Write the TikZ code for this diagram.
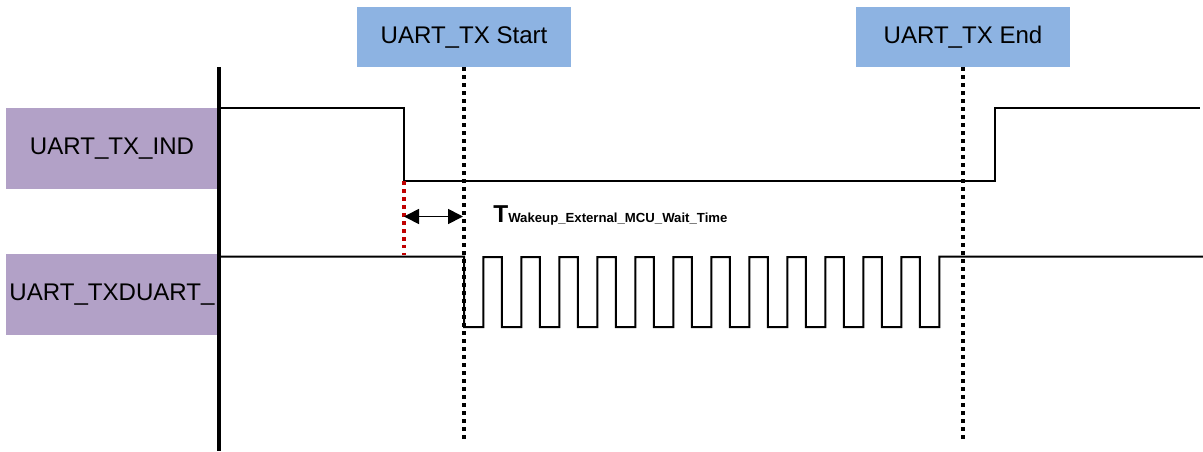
\documentclass[tikz,border=0pt]{standalone}
\usepackage{fontspec}
\setmainfont{Liberation Sans}
\usetikzlibrary{arrows.meta}
\usetikzlibrary{positioning}

\definecolor{sigpurple}{RGB}{178,161,199}
\definecolor{evtblue}{RGB}{141,179,226}
\definecolor{markred}{RGB}{192,0,0}

\begin{document}
\begin{tikzpicture}[x=0.02cm,y=-0.02cm,
  siglabel/.style={rectangle,fill=sigpurple,draw=none,inner sep=0,minimum width=4.24cm,minimum height=1.62cm,font=\fontsize{13.7}{16}\selectfont},
  evtlabel/.style={rectangle,fill=evtblue,draw=none,inner sep=0,minimum width=4.28cm,minimum height=1.2cm,font=\fontsize{13.7}{16}\selectfont},
  signal/.style={black,line width=0.04cm},
  marker/.style={line width=0.08cm,dash pattern=on 0.07cm off 0.09cm}]
\useasboundingbox (0,0) rectangle (1203,451);

\node[siglabel] (ind) at (112,148.5) {UART\_TX\_IND};
\node[siglabel] (txd) at (112,294.5) {UART\_TXDUART\_};
\node[evtlabel] (start) at (464,37) {UART\_TX Start};
\node[evtlabel] (end) at (963,37) {UART\_TX End};

\draw[black,line width=0.08cm] (219,67) -- (219,451);

% waveforms
\draw[signal] (219,108) -- (404,108) -- (404,180.5) -- (995,180.5) -- (995,108) -- (1200,108);
\draw[signal] (219,256.5) -- (464,256.5) -- (464,327) -- (483.3,327)
  \foreach \i in {1,...,12}{ -- ++(0,-70) -- ++(18.5,0) -- ++(0,70) -- ++(19.5,0) }
  -- ++(0,-70.5) -- (1203,256.5);

% event markers
\coordinate (startbot) at (464,442);
\coordinate (endbot) at (963,442);
\draw[marker,black] (start.south) -- (startbot);
\draw[marker,black] (end.south) -- (endbot);

\coordinate (fall) at (404,181);
\coordinate (fallbot) at (404,255);
\draw[marker,markred] (fall) -- (fallbot);

\coordinate (waitl) at (404,216.5);
\coordinate (waitr) at (463,216.5);
\draw[line width=0.035cm,{Triangle[length=0.3cm,width=0.3cm]}-{Triangle[length=0.3cm,width=0.3cm]}] (waitl) -- (waitr);
\node[anchor=base west,inner sep=0] (wait) at (493,222.7) {{\fontsize{13.9}{16}\selectfont\bfseries T}{\fontsize{7.5}{9}\selectfont\bfseries Wakeup\_External\_MCU\_Wait\_Time}};

\end{tikzpicture}
\end{document}
